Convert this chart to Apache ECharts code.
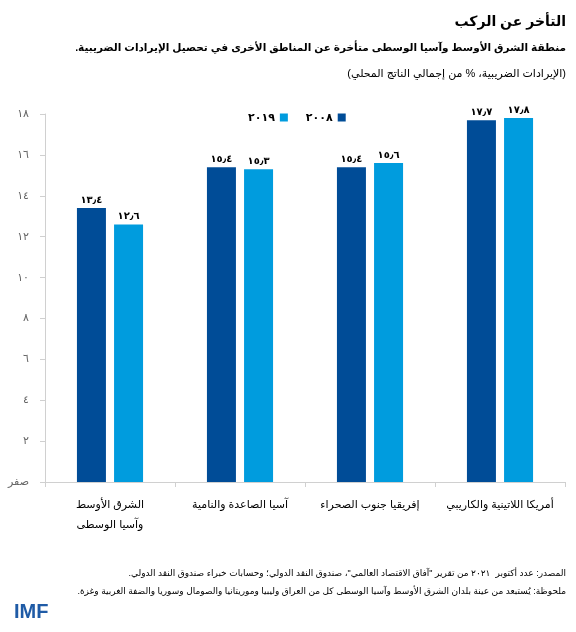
<!DOCTYPE html>
<html><head><meta charset="utf-8">
<script src="https://cdn.jsdelivr.net/npm/echarts@6/dist/echarts.min.js"></script>
<style>html,body{margin:0;padding:0;background:#fff}#c{width:576px;height:632px;direction:rtl}</style>
</head><body><div id="c" dir="rtl"></div>
<script>
var categories = ['الشرق الأوسط\nوآسيا الوسطى', 'آسيا الصاعدة والنامية', 'إفريقيا جنوب الصحراء', 'أمريكا اللاتينية والكاريبي'];
var values2008 = [13.4, 15.4, 15.4, 17.7];
var values2019 = [12.6, 15.3, 15.6, 17.8];
var seriesNames = ['2008', '2019'];
var legendLabels = {'2008': '٢٠٠٨', '2019': '٢٠١٩'};
var yTickLabels = ['صفر', '٢', '٤', '٦', '٨', '١٠', '١٢', '١٤', '١٦', '١٨'];

var digits = '٠١٢٣٤٥٦٧٨٩';
function toArabic(v) {
  return v.toFixed(1).replace(/[0-9]/g, function (d) { return digits[+d]; }).replace('.', '٫');
}
var FONT = 'Arial, "DejaVu Sans", sans-serif';
var chart = echarts.init(document.getElementById('c'));
chart.setOption({
  backgroundColor: '#fff',
  textStyle: {fontFamily: FONT},
  title: [
    {text: 'التأخر عن الركب', right: 5, top: 10, textStyle: {fontSize: 14, fontWeight: 'bold', color: '#000', fontFamily: FONT}},
    {text: 'منطقة الشرق الأوسط وآسيا الوسطى متأخرة عن المناطق الأخرى في تحصيل الإيرادات الضريبية.', right: 5, top: 38, textStyle: {fontSize: 10.5, fontWeight: 'bold', color: '#000', fontFamily: FONT}},
    {text: '(الإيرادات الضريبية، % من إجمالي الناتج المحلي)', right: 5, top: 63, textStyle: {fontSize: 11, fontWeight: 'normal', color: '#000', fontFamily: FONT}}
  ],
  legend: {
    data: ['2019', '2008'],
    left: 243, top: 107,
    orient: 'horizontal',
    align: 'right',
    itemWidth: 8, itemHeight: 8, itemGap: 18,
    icon: 'rect',
    formatter: function (n) { return legendLabels[n]; },
    textStyle: {fontSize: 11, fontWeight: 'bold', color: '#000'}
  },
  grid: {left: 45, right: 11, top: 114, bottom: 150, containLabel: false},
  xAxis: {
    type: 'category',
    data: categories,
    axisLine: {lineStyle: {color: '#d0d0d0'}},
    axisTick: {show: true, length: 5, lineStyle: {color: '#d0d0d0'}},
    axisLabel: {fontSize: 11, color: '#000', margin: 13, lineHeight: 20, interval: 0}
  },
  yAxis: {
    type: 'value', min: 0, max: 18, interval: 2,
    axisLine: {show: true, lineStyle: {color: '#d0d0d0'}},
    axisTick: {show: true, length: 5, lineStyle: {color: '#d0d0d0'}},
    splitLine: {show: false},
    axisLabel: {fontSize: 11, color: '#666', margin: 16, formatter: function (v) { return yTickLabels[Math.round(v / 2)]; }}
  },
  series: [
    {name: seriesNames[0], type: 'bar', data: values2008, barWidth: 29, barGap: '28%',
     itemStyle: {color: '#004C97'},
     label: {show: true, position: 'top', distance: 3, fontSize: 10, fontWeight: 'bold', color: '#000', formatter: function (p) { return toArabic(p.value); }}},
    {name: seriesNames[1], type: 'bar', data: values2019, barWidth: 29,
     itemStyle: {color: '#009CDE'},
     label: {show: true, position: 'top', distance: 3, fontSize: 10, fontWeight: 'bold', color: '#000', formatter: function (p) { return toArabic(p.value); }}}
  ],
  graphic: [
    {type: 'text', right: 10, top: 569, style: {text: 'المصدر: عدد أكتوبر  ٢٠٢١ من تقرير "آفاق الاقتصاد العالمي"، صندوق النقد الدولي؛ وحسابات خبراء صندوق النقد الدولي.', fontSize: 9, fill: '#000', fontFamily: FONT}},
    {type: 'text', right: 10, top: 587, style: {text: 'ملحوظة: يُستبعد من عينة بلدان الشرق الأوسط وآسيا الوسطى كل من العراق وليبيا وموريتانيا والصومال وسوريا والضفة الغربية وغزة.', fontSize: 9, fill: '#000', fontFamily: FONT}},
    {type: 'text', left: 14, top: 602, style: {text: 'IMF', fontSize: 20, fontWeight: 'bold', fill: '#1F5BA6', fontFamily: 'Arial, "Liberation Sans", sans-serif'}}
  ]
});
</script>
</body></html>
